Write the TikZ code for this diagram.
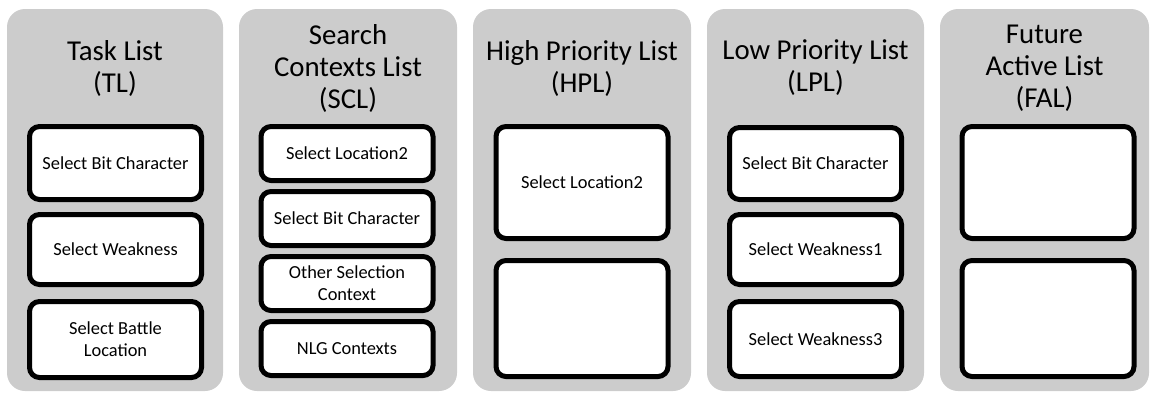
\documentclass[tikz,border=0pt]{standalone}
\usepackage{fontspec}
\setmainfont{Carlito}

\tikzset{
  listbg/.style={fill=black!20, rounded corners=18pt, inner sep=0pt,
    minimum width=216pt, minimum height=382pt},
  listtitle/.style={align=center, inner sep=0pt, font=\fontsize{28.8}{32}\selectfont},
  entry/.style={draw=black, fill=white, line width=5pt, rounded corners=10pt,
    inner sep=0pt, minimum width=172pt, align=center, font=\fontsize{18.4}{22}\selectfont}
}

\begin{document}
\begin{tikzpicture}[x=1pt,y=-1pt]
	    \useasboundingbox (0,0) rectangle (1151,394);

	    % list backgrounds
	    \node [listbg] (tl)  at (115,200) {};
	    \node [listbg, minimum width=218pt] (scl) at (348,200) {};
	    \node [listbg, minimum width=218pt] (hpl) at (582,200) {};
	    \node [listbg, minimum width=217pt] (lpl) at (815.5,200) {};
	    \node [listbg, minimum width=209pt] (fal) at (1044.5,200) {};

	    % titles
	    \node [listtitle] (tltitle)  at (115,68) {Task List\\(TL)};
	    \node [listtitle] (scltitle) at (348,68) {Search\\Contexts List\\(SCL)};
	    \node [listtitle] (hpltitle) at (582,68) {High Priority List\\(HPL)};
	    \node [listtitle] (lpltitle) at (815.5,68) {Low Priority List\\(LPL)};
	    \node [listtitle] (faltitle) at (1044.5,68) {Future\\Active List\\(FAL)};

	    % task list
	    \node [entry, minimum height=73pt] (tl1) at (115.5,163) {Select Bit Character};
	    \node [entry, minimum height=70pt] (tl2) at (115.5,249.5) {Select Weakness};
	    \node [entry, minimum height=76pt] (tl3) at (115.5,339.5) {Select Battle\\Location};

	    % search contexts list
	    \node [entry, minimum height=54pt] (scl1) at (347,153.5) {Select Location2};
	    \node [entry, minimum height=54pt] (scl2) at (347,218.5) {Select Bit Character};
	    \node [entry, minimum height=54pt] (scl3) at (347,283.5) {Other Selection\\Context};
	    \node [entry, minimum height=54pt] (scl4) at (347,348.5) {NLG Contexts};

	    % high priority list
	    \node [entry, minimum height=112pt] (hpl1) at (582,182.5) {Select Location2};
	    \node [entry, minimum height=116pt] (hpl2) at (582,318.5) {};

	    % low priority list
	    \node [entry, minimum height=72pt] (lpl1) at (815.5,163.5) {Select Bit Character};
	    \node [entry, minimum height=70pt] (lpl2) at (815.5,249.5) {Select Weakness1};
	    \node [entry, minimum height=75pt] (lpl3) at (815.5,339) {Select Weakness3};

	    % future active list
	    \node [entry, minimum height=112pt] (fal1) at (1048,182.5) {};
	    \node [entry, minimum height=116pt] (fal2) at (1048,318.5) {};
	\end{tikzpicture}
\end{document}
